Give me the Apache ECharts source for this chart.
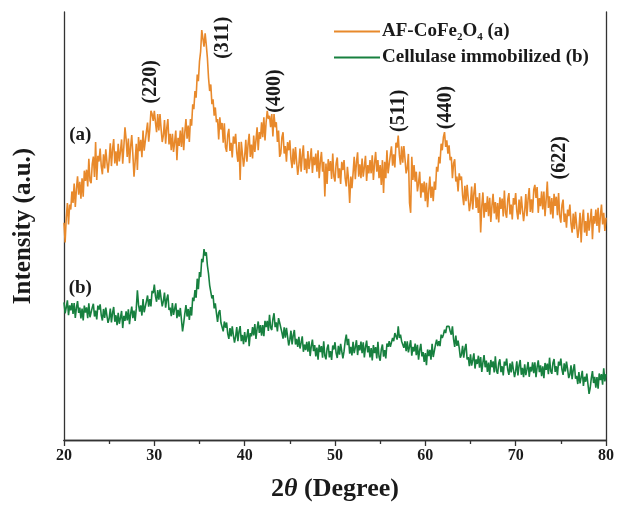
<!DOCTYPE html>
<html><head><meta charset="utf-8">
<script src="https://cdn.jsdelivr.net/npm/echarts@6/dist/echarts.min.js"></script>
<style>html,body{margin:0;padding:0;background:#fff}#c{width:617px;height:507px}</style>
</head><body><div id="c"></div>
<script>
// 2θ sampling grid: start and step (degrees)
var thetaStart = 20, thetaStep = 0.125;
// Intensity (a.u.), AF-CoFe2O4 (a) — 8 readings per degree
var seriesA = [
660,600,675,720,655,715,700,755, 720,779,708,762,801,745,784,733,
795,739,818,787,821,770,854,788, 780,838,861,799,905,790,863,846,
885,832,807,868,825,883,845,812, 850,901,832,883,914,840,877,833,
900,846,877,913,839,891,950,914, 860,916,841,891,926,866,800,846,
900,820,920,877,912,859,940,879, 875,937,964,906,943,1000,990,969,
1000,965,935,990,940,990,945,905, 925,972,900,947,975,898,930,880,
930,875,905,940,850,918,893,940, 890,950,880,935,975,915,955,905,
975,955,1020,1005,1060,1040,1110,1090, 1150,1180,1245,1220,1195,1235,1200,1160,
1100,1060,1080,1020,1035,985,1010,965, 975,913,980,943,963,903,962,890,
875,927,945,878,903,858,922,900, 930,873,845,905,790,906,870,830,
860,912,845,898,930,860,897,855, 925,875,910,950,880,935,915,965,
920,980,910,965,1000,975,985,950, 990,922,990,950,965,905,940,860,
870,920,935,870,893,845,905,880, 910,853,826,885,837,890,846,805,
835,885,815,865,895,820,855,810, 878,823,852,886,811,860,835,870,
815,880,795,845,875,815,845,740, 840,778,853,817,847,793,870,800,
785,840,858,795,825,778,845,820, 850,795,770,830,790,720,800,765,
810,860,792,843,874,800,837,795, 855,800,829,863,787,835,810,850,
810,865,790,840,875,815,850,795, 835,775,850,750,845,795,880,810,
805,866,892,833,868,828,903,888, 925,866,836,892,842,893,853,810,
825,869,720,690,860,790,835,785, 815,755,780,815,736,780,752,785,
725,781,707,757,800,735,770,725, 785,760,830,815,860,840,900,880,
920,935,890,910,870,895,850,860, 795,840,853,785,800,755,810,790,
800,743,713,772,725,775,735,695, 720,770,700,750,780,705,737,690,
750,630,710,752,675,720,693,740, 680,736,662,712,748,688,723,670,
720,661,737,702,733,679,758,690, 675,730,750,685,715,670,735,715,
750,695,670,730,685,740,700,665, 695,747,680,732,765,693,731,690,
760,775,735,768,690,735,710,755, 700,755,680,730,785,705,740,685,
735,673,748,711,739,683,750,680, 660,713,730,662,688,645,700,680,
715,658,630,688,640,693,653,614, 640,690,600,670,700,630,665,620,
690,636,666,702,610,680,657,700, 650,705,630,680,715,655,690,635,
675];
// Intensity (a.u.), Cellulase immobilized (b) — 8 readings per degree
var seriesB = [
418,385,403,424,379,409,394,416, 383,416,371,401,422,386,402,369,
399,363,408,387,403,370,415,373, 369,402,414,375,393,366,408,396,
412,379,363,398,371,402,378,356, 369,399,357,386,404,359,379,349,
386,353,371,392,340,377,362,391, 363,397,352,383,405,370,393,362,
399,455,411,390,409,378,428,388, 384,422,439,405,428,406,453,446,
472,437,420,455,426,457,430,406, 422,448,402,428,442,395,402,376,
416,380,398,415,370,395,375,401, 366,330,355,384,410,375,398,365,
404,378,433,422,455,432,490,458, 510,495,550,540,580,560,570,530,
505,470,475,430,440,400,415,385, 359,387,395,356,355,330,360,341,
357,323,307,340,315,345,318,296, 314,343,300,329,346,300,319,291,
328,297,315,337,285,325,315,343, 318,352,307,338,360,325,349,317,
349,315,362,343,362,331,380,341, 334,367,385,343,357,330,370,356,
362,326,308,342,311,341,314,287, 304,332,290,318,334,290,307,283,
313,278,295,315,268,290,273,298, 268,300,255,285,305,270,288,254,
281,244,289,267,285,250,300,256, 245,278,290,251,270,243,287,275,
297,264,249,286,259,292,269,248, 269,300,320,288,307,262,283,257,
298,264,282,303,258,288,272,299, 264,297,251,282,302,266,285,251,
279,242,288,264,282,248,298,253, 241,275,290,253,273,248,293,283,
300,283,280,310,300,325,315,305, 345,310,320,300,305,280,300,270,
300,266,284,303,256,283,269,293, 258,289,244,273,292,254,267,237,
264,227,275,255,274,244,292,252, 255,290,305,285,300,285,320,310,
320,335,325,345,340,345,330,320, 345,306,283,317,286,302,280,250,
259,286,250,277,292,245,252,224, 260,226,243,263,217,245,231,256,
220,252,207,236,258,221,241,207, 235,198,243,221,239,205,254,210,
201,233,245,206,224,196,238,226, 247,213,198,233,205,238,213,191,
209,239,196,226,243,198,219,191, 230,197,215,237,192,222,208,236,
203,236,191,221,242,206,227,194, 224,188,234,213,232,200,250,210,
201,234,246,207,224,197,238,226, 247,214,198,233,208,238,215,188,
199,227,185,214,230,186,195,170, 206,172,190,210,164,192,177,202,
170,140,158,188,209,173,192,159, 191,156,202,182,200,168,218,178,
200];
var xTicks = [20,30,40,50,60,70,80];
var peakLabels = ['(220)','(311)','(400)','(511)','(440)','(622)'];
var peakPos = [[29.6,1088],[37.6,1222],[43.3,1060],[57.1,1000],[62.3,1010],[74.9,857]];
var curveLabels = ['(a)','(b)'];
var curvePos = [[21.8,925],[21.8,460]];

function pairs(v){ return v.map(function(y,i){ return [thetaStart + i*thetaStep, y]; }); }

var FONT = '"Liberation Serif","Times New Roman",serif';
var AX = '#333';
var TXT = '#1a1a1a';
var chart = echarts.init(document.getElementById('c'), null, {renderer:'canvas'});
chart.setOption({
  backgroundColor:'#ffffff',
  animation:false,
  grid:{left:64, right:9, top:12, bottom:60},
  legend:{
    orient:'vertical', left:329, top:17, itemWidth:46, itemHeight:2, itemGap:5,
    icon:'rect',
    data:['AF-CoFe2O4 (a)','Cellulase immobilized (b)'],
    formatter:function(n){
      if(n==='AF-CoFe2O4 (a)') return '{b|AF-CoFe}{s|2}{b|O}{s|4}{b| (a)}';
      return '{b|Cellulase immobilized (b)}';
    },
    textStyle:{
      padding:[0,0,0,-3],
      rich:{
        b:{fontFamily:FONT, fontWeight:'bold', fontSize:19, color:TXT},
        s:{fontFamily:FONT, fontWeight:'bold', fontSize:11, color:TXT, padding:[12,0,0,0]}
      }
    }
  },
  xAxis:[{
    type:'value', min:20, max:80, interval:10,
    axisLine:{lineStyle:{color:AX, width:1.3}},
    axisTick:{inside:false, length:6, lineStyle:{color:AX, width:1.3}},
    minorTick:{show:true, splitNumber:2, length:4, lineStyle:{color:AX, width:1.3}},
    splitLine:{show:false},
    axisLabel:{fontFamily:FONT, fontWeight:'bold', fontSize:16, color:TXT, margin:8,
      formatter:function(v){ return xTicks.indexOf(v)>=0 ? String(v) : ''; }},
    name:'{n|2}{i|θ}{n| (Degree)}', nameLocation:'middle', nameGap:36,
    nameTextStyle:{rich:{
      n:{fontFamily:FONT, fontWeight:'bold', fontSize:26, color:TXT},
      i:{fontFamily:FONT, fontWeight:'bold', fontStyle:'italic', fontSize:26, color:TXT}
    }}
  },{
    type:'value', min:20, max:80, position:'top',
    axisLine:{lineStyle:{color:AX, width:1.3}}, axisTick:{show:false}, axisLabel:{show:false}, splitLine:{show:false}
  }],
  yAxis:[{
    type:'value', min:0, max:1300,
    axisLine:{show:true, lineStyle:{color:AX, width:1.3}}, axisTick:{show:false}, axisLabel:{show:false}, splitLine:{show:false},
    name:'Intensity (a.u.)', nameLocation:'middle', nameGap:28,
    nameTextStyle:{fontFamily:FONT, fontWeight:'bold', fontSize:25, color:TXT}
  },{
    type:'value', min:0, max:1300, position:'right',
    axisLine:{show:true, lineStyle:{color:AX, width:1.3}}, axisTick:{show:false}, axisLabel:{show:false}, splitLine:{show:false}
  }],
  series:[
    {name:'AF-CoFe2O4 (a)', type:'line', data:pairs(seriesA), showSymbol:false, symbol:'none',
     lineStyle:{color:'#E8892B', width:1.6}, itemStyle:{color:'#E8892B'}},
    {name:'Cellulase immobilized (b)', type:'line', data:pairs(seriesB), showSymbol:false, symbol:'none',
     lineStyle:{color:'#17803F', width:1.6}, itemStyle:{color:'#17803F'}},
    {type:'scatter', symbolSize:0, silent:true, itemStyle:{opacity:1},
     data:peakPos.map(function(p,i){ return {value:p, name:peakLabels[i]}; }),
     label:{show:true, position:'inside', rotate:90, formatter:'{b}', textBorderWidth:0, opacity:1,
       fontFamily:FONT, fontWeight:'bold', fontSize:20, color:TXT}},
    {type:'scatter', symbolSize:0, silent:true, itemStyle:{opacity:1},
     data:curvePos.map(function(p,i){ return {value:p, name:curveLabels[i]}; }),
     label:{show:true, position:'inside', formatter:'{b}', textBorderWidth:0, opacity:1,
       fontFamily:FONT, fontWeight:'bold', fontSize:19, color:TXT}}
  ]
});
</script></body></html>
